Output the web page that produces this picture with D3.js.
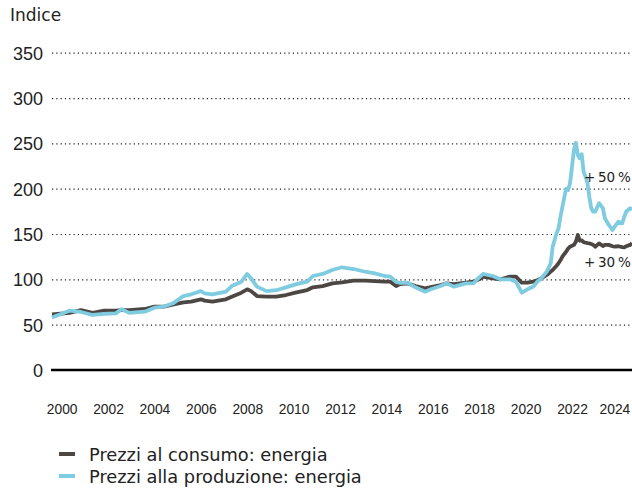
<!DOCTYPE html>
<html>
<head>
<meta charset="utf-8">
<script src="https://cdn.jsdelivr.net/npm/d3@7"></script>
<style>
  body { margin: 0; background: #fff; }
  svg { display: block; font-family: "DejaVu Sans", sans-serif; }
</style>
</head>
<body>
<svg></svg>
<script>
const width = 632
const height = 489

// dates (YYYY-MM) shared by both series
const dates = [
  "2000-01","2000-10","2001-04","2001-10","2002-04","2002-10","2003-01","2003-05","2004-01","2004-06",
  "2004-11","2005-04","2005-09","2006-01","2006-06","2006-08","2006-12","2007-07","2007-10","2008-03",
  "2008-06","2008-08","2008-11","2009-04","2009-09","2010-02","2010-07","2011-01","2011-04","2011-09",
  "2012-02","2012-07","2013-01","2013-07","2013-12","2014-05","2014-08","2014-11","2015-01","2015-05",
  "2015-09","2016-02","2016-05","2016-10","2017-01","2017-05","2017-11","2018-03","2018-06","2018-08",
  "2019-01","2019-05","2019-10","2020-01","2020-04","2020-07","2020-10","2020-12","2021-02","2021-05",
  "2021-07","2021-08","2021-10","2021-11","2021-12","2022-01","2022-02","2022-03","2022-04","2022-05",
  "2022-06","2022-07","2022-08","2022-09","2022-10","2022-11","2022-12","2023-01","2023-02","2023-03",
  "2023-04","2023-05","2023-06","2023-08","2023-10","2023-11","2024-01","2024-03","2024-04","2024-06",
  "2024-08","2024-09","2024-10","2024-12","2025-01"
]

// Prezzi al consumo: energia
const consumo = [
  61.4,63,66,63,65.4,65.4,66,66,67.3,70,
  70,72.4,74.7,75.5,78,76.5,75.4,78,80.9,85.3,
  89,87,81.6,81,81,82.7,85.3,88.2,91.2,92.6,
  95.6,96.7,98.5,98.5,98,97.4,97.4,92.6,94.8,95.6,
  92.6,90,91.5,93.7,95.6,94.8,96.3,97.4,100,103,
  101,100,103,103,96.3,96.3,97.4,99,101,104.8,
  108.5,110.3,115,117.7,121,125,128,130.5,134,136,
  137,138,141.5,149,142.6,143,141,140.4,140,139.7,
  139,138,136,139.7,136.8,138,138,136.5,136,136.5,
  135.5,135.3,136.5,138,139.7
]

// Prezzi alla produzione: energia
const produzione = [
  58,65.4,64,60.7,61.8,62.5,67,63,64.3,68.7,
  70,74,81.6,83.5,87,84.6,83.5,86.4,92.6,97.4,
  106,101,92,87,88,91.2,94.5,97.4,103.7,106,
  110.3,113.3,111.4,108.4,106.6,103.7,103,97.4,96,96.3,
  91.2,86.4,89,92.6,95.6,91.9,95.6,95.6,102.2,106,
  103.7,100,100,97.4,85.3,89,92,97.4,101,108.5,
  117.7,136,150.8,156,169,180,191,200,198.5,206,
  224,242.7,250.7,237,233.5,238,218.7,213,206,191,
  178.4,174.6,174.6,184,178.4,167.3,160,154.4,158,163.6,
  161.8,169,174.6,178.4,177
]

const yTicks = [0, 50, 100, 150, 200, 250, 300, 350]
const yearTicks = [2000, 2002, 2004, 2006, 2008, 2010, 2012, 2014, 2016, 2018, 2020, 2022, 2024]

const colorConsumo = "#4d4744"
const colorProduzione = "#7fcbe0"

const parse = d3.timeParse("%Y-%m")
const rows = dates.map((d, i) => ({date: parse(d), consumo: consumo[i], produzione: produzione[i]}))

const svg = d3.select("svg")
    .attr("width", width)
    .attr("height", height)

const x = d3.scaleTime()
    .domain([new Date(2000, 0, 1), d3.max(rows, d => d.date)])
    .range([52, 632])

const y = d3.scaleLinear()
    .domain([0, 350])
    .range([370, 52.7])

// y grid + labels
const yAxis = svg.append("g")
    .attr("transform", "translate(52,0)")
    .call(d3.axisLeft(y).tickValues(yTicks).tickSize(-(width - 52)).tickPadding(9))
yAxis.select(".domain").remove()
yAxis.selectAll(".tick line")
    .attr("stroke", "#222")
    .attr("stroke-width", 1.2)
    .attr("stroke-dasharray", "1.2,3.1")
    .filter(d => d === 0).remove()
yAxis.selectAll(".tick text")
    .attr("fill", "#222")
    .attr("font-size", "18px")
    .attr("dy", "0.36em")

// zero line
svg.append("line")
    .attr("x1", 51).attr("x2", width)
    .attr("y1", y(0)).attr("y2", y(0))
    .attr("stroke", "#000")
    .attr("stroke-width", 2.5)

// x labels (centred on the middle of the year)
const xAxis = svg.append("g")
    .attr("transform", `translate(0, ${y(0)})`)
    .call(d3.axisBottom(x)
        .tickValues(yearTicks.map(yr => new Date(yr, 5, 1)))
        .tickFormat(d3.timeFormat("%Y"))
        .tickSize(0)
        .tickPadding(34))
xAxis.select(".domain").remove()
xAxis.selectAll(".tick text")
    .attr("fill", "#222")
    .attr("font-size", "13.8px")
// keep the last year inside the frame
xAxis.selectAll(".tick text")
    .filter(d => d.getFullYear() === 2024)
    .attr("dx", -4)

// lines
const lineFor = key => d3.line()
    .x(d => x(d.date))
    .y(d => y(d[key]))

svg.append("path")
    .datum(rows)
    .attr("fill", "none")
    .attr("stroke", colorConsumo)
    .attr("stroke-width", 3.8)
    .attr("stroke-linejoin", "round")
    .attr("d", lineFor("consumo"))

svg.append("path")
    .datum(rows)
    .attr("fill", "none")
    .attr("stroke", colorProduzione)
    .attr("stroke-width", 3.8)
    .attr("stroke-linejoin", "round")
    .attr("d", lineFor("produzione"))

// title
svg.append("text")
    .attr("x", 10)
    .attr("y", 21)
    .attr("fill", "#222")
    .attr("font-size", "17px")
    .text("Indice")

// annotations (thin spaces so they fit inside the frame)
svg.append("text")
    .attr("x", 584)
    .attr("y", 182)
    .attr("fill", "#222")
    .attr("font-size", "13.5px")
    .text("+\u200950\u2009%")

svg.append("text")
    .attr("x", 584)
    .attr("y", 267)
    .attr("fill", "#222")
    .attr("font-size", "13.5px")
    .text("+\u200930\u2009%")

// legend
const legend = [
  {name: "Prezzi al consumo: energia", color: colorConsumo},
  {name: "Prezzi alla produzione: energia", color: colorProduzione}
]
const lg = svg.append("g")
legend.forEach((d, i) => {
  lg.append("line")
      .attr("x1", 59).attr("x2", 75)
      .attr("y1", 454 + i * 22).attr("y2", 454 + i * 22)
      .attr("stroke", d.color)
      .attr("stroke-width", 4)
  lg.append("text")
      .attr("x", 89)
      .attr("y", 461 + i * 22)
      .attr("fill", "#222")
      .attr("font-size", "17.8px")
      .text(d.name)
})
</script>
</body>
</html>
